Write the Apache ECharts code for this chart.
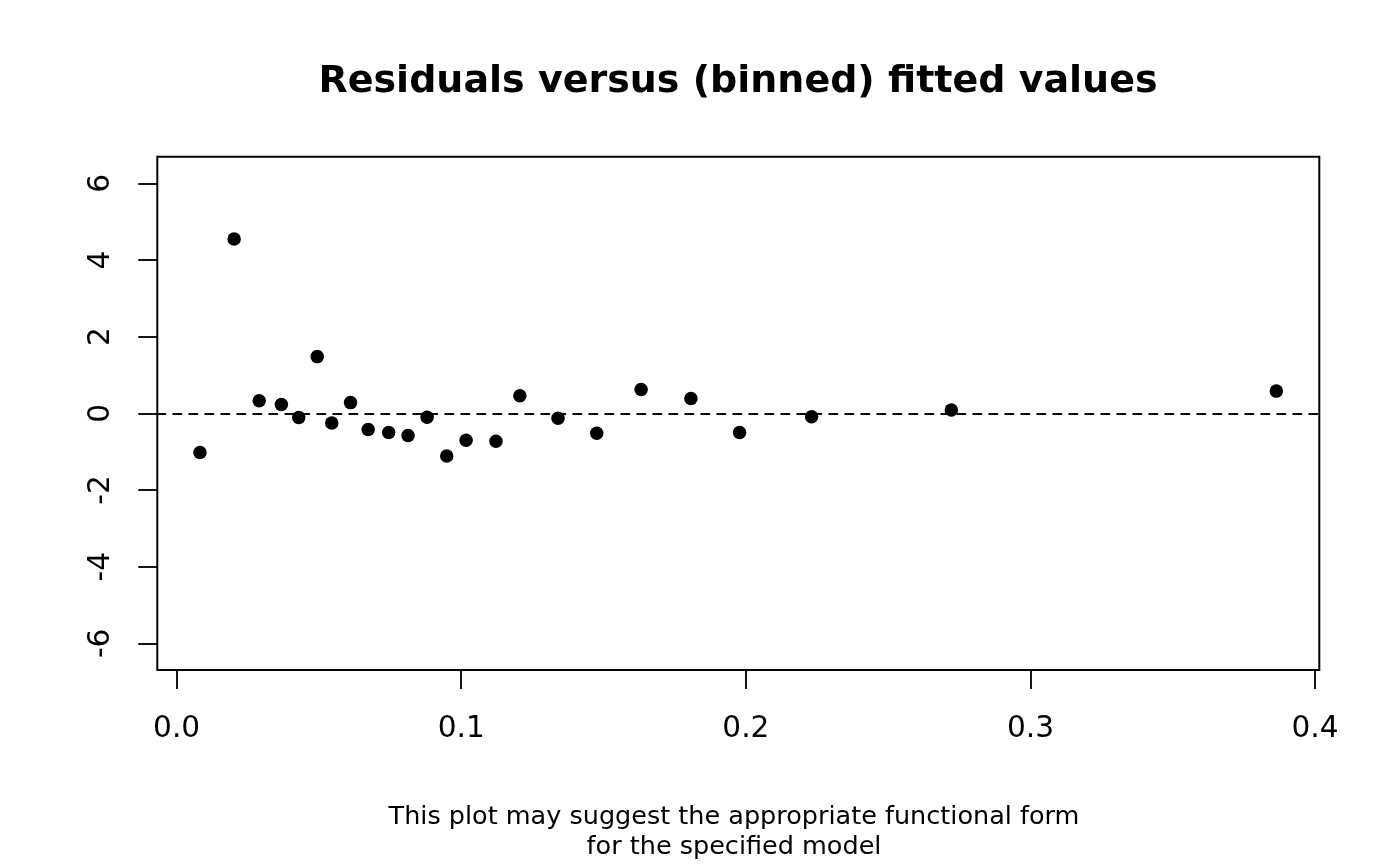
<!DOCTYPE html>
<html>
<head>
<meta charset="utf-8">
<script src="https://cdn.jsdelivr.net/npm/echarts@6/dist/echarts.min.js"></script>
<style>
html, body { margin: 0; padding: 0; background: #fff; }
#chart { width: 1400px; height: 866px; }
</style>
</head>
<body>
<div id="chart"></div>
<script>
// ---- data ----
const fittedValues = [0.0082, 0.0202, 0.0290, 0.0368, 0.0429, 0.0494, 0.0545, 0.0611,
  0.0673, 0.0745, 0.0813, 0.0880, 0.0949, 0.1017, 0.1122, 0.1206, 0.1340, 0.1476,
  0.1632, 0.1807, 0.1978, 0.2231, 0.2722, 0.3864];
const residuals = [-1.02, 4.55, 0.33, 0.23, -0.11, 1.48, -0.25, 0.28,
  -0.42, -0.50, -0.58, -0.10, -1.11, -0.70, -0.73, 0.46, -0.13, -0.52,
  0.62, 0.39, -0.50, -0.09, 0.09, 0.58];
const xTicks = [0.0, 0.1, 0.2, 0.3, 0.4];
const yTicks = [-6, -4, -2, 0, 2, 4, 6];
const xLimits = [-0.0068, 0.4015];
const yLimits = [-6.695, 6.695];
const referenceLevel = 0;
const titleText = 'Residuals versus (binned) fitted values';
const subText = 'This plot may suggest the appropriate functional form\nfor the specified model';

const FONT = 'DejaVu Sans';
const chart = echarts.init(document.getElementById('chart'), null, { renderer: 'canvas' });

const points = fittedValues.map((x, i) => [x, residuals[i]]);

chart.setOption({
  animation: false,
  backgroundColor: '#ffffff',
  title: [
    {
      text: titleText,
      left: 738, top: 63, textAlign: 'center', padding: 0,
      textStyle: { fontFamily: FONT, fontSize: 38, fontWeight: 'bold', color: '#000' }
    },
    {
      text: subText,
      left: 734, top: 802, textAlign: 'center', padding: 0,
      textStyle: { fontFamily: FONT, fontSize: 25.5, fontWeight: 'normal', color: '#000', lineHeight: 30 }
    }
  ],
  grid: {
    left: 157.3, right: 80.7, top: 156.7, bottom: 196,
    show: true, borderColor: '#000', borderWidth: 2, backgroundColor: 'transparent',
    containLabel: false
  },
  xAxis: {
    type: 'value', min: xLimits[0], max: xLimits[1],
    axisLine: { show: false, onZero: false },
    splitLine: { show: false },
    axisTick: { show: true, customValues: xTicks, length: 19, inside: false,
      lineStyle: { color: '#000', width: 1.85 } },
    axisLabel: { show: true, customValues: xTicks, margin: 44.5, color: '#000',
      fontFamily: FONT, fontSize: 29.6, formatter: v => v.toFixed(1) }
  },
  yAxis: {
    type: 'value', min: yLimits[0], max: yLimits[1],
    axisLine: { show: false, onZero: false },
    splitLine: { show: false },
    axisTick: { show: true, customValues: yTicks, length: 19, inside: false,
      lineStyle: { color: '#000', width: 1.85 } },
    axisLabel: { show: true, customValues: yTicks, margin: 40.7, rotate: 90, color: '#000',
      fontFamily: FONT, fontSize: 29.6, formatter: v => String(v) }
  },
  series: [{
    type: 'scatter',
    data: points,
    symbol: 'circle',
    symbolSize: 13.5,
    itemStyle: { color: '#000', opacity: 1 },
    emphasis: { disabled: true },
    silent: true,
    markLine: {
      silent: true,
      symbol: 'none',
      label: { show: false },
      emphasis: { disabled: true },
      lineStyle: { color: '#000', width: 2, type: [8, 8], cap: 'round', opacity: 1 },
      data: [{ yAxis: referenceLevel }]
    }
  }]
});
</script>
</body>
</html>
